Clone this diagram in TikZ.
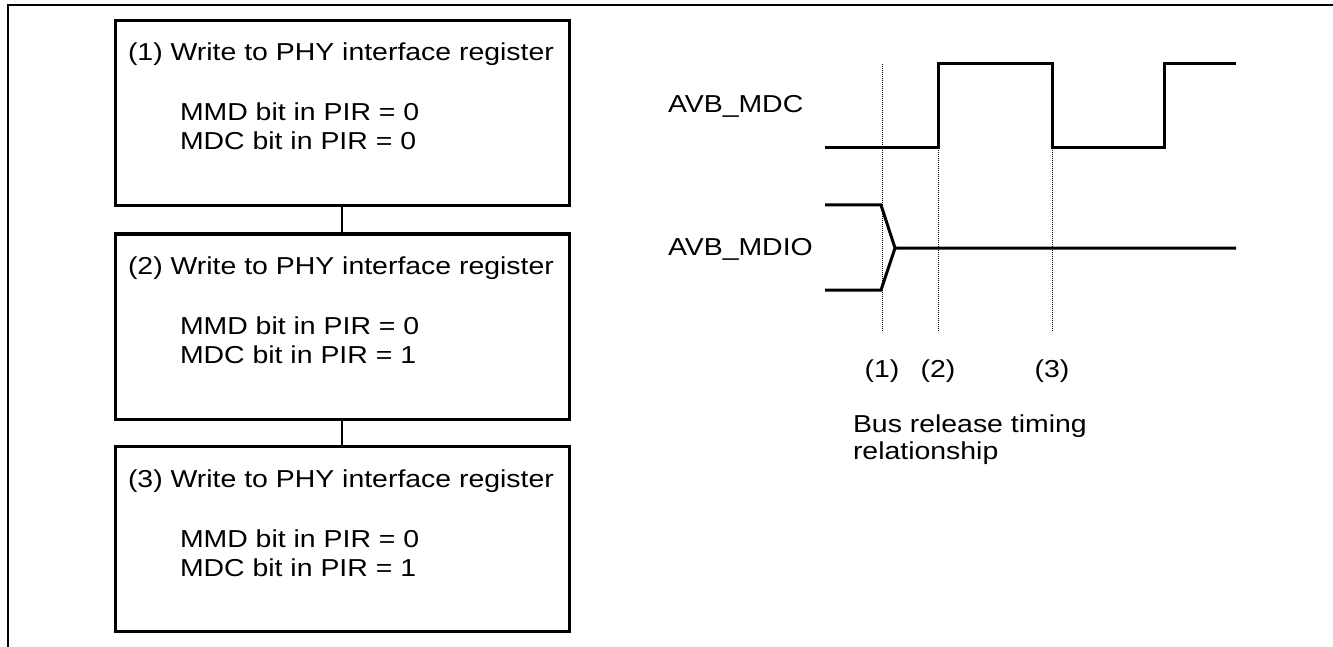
\documentclass[tikz,border=0pt]{standalone}
\usepackage{fontspec}
\setmainfont{Liberation Sans}[FakeStretch=1.16]
\begin{document}
\begin{tikzpicture}[x=1pt,y=-1pt,
  every node/.style={inner sep=0pt,outer sep=0pt,font=\fontsize{24.5}{29.5}\selectfont},
  stepbox/.style={draw,line width=3pt,minimum width=454pt,minimum height=185pt},
  txt/.style={anchor=base west},
  link/.style={line width=1.8pt},
  sig/.style={line width=3pt,line join=miter},
  dotln/.style={line width=1pt,dash pattern=on 1pt off 1pt},
  frame/.style={line width=2pt}]
\useasboundingbox (0,0) rectangle (1333,647);
% frame
\draw[frame] (1333,5) -- (8,5) -- (8,647);
% boxes
\node[stepbox] (b1) at (342,113.5) {};
\node[stepbox] (b2) at (342,326.5) {};
\node[stepbox] (b3) at (342,539) {};
\draw[link] (b1.south) -- (b2.north);
\draw[link] (b2.south) -- (b3.north);
% box texts
\node[txt] (t1) at (128,61) {(1) Write to PHY interface register};
\node[txt] (m1) at (180,121) {MMD bit in PIR = 0};
\node[txt] (c1) at (180,150) {MDC bit in PIR = 0};
\node[txt] (t2) at (128,274) {(2) Write to PHY interface register};
\node[txt] (m2) at (180,334) {MMD bit in PIR = 0};
\node[txt] (c2) at (180,363) {MDC bit in PIR = 1};
\node[txt] (t3) at (128,487) {(3) Write to PHY interface register};
\node[txt] (m3) at (180,547) {MMD bit in PIR = 0};
\node[txt] (c3) at (180,576) {MDC bit in PIR = 1};
% timing labels
\node[txt] (lmdc) at (668,113) {AVB\_MDC};
\node[txt] (lmdio) at (668,255) {AVB\_MDIO};
% waveforms
\draw[sig] (825,148) -- (938,148) -- (938,64) -- (1052,64) -- (1052,148) -- (1164,148) -- (1164,64) -- (1236,64);
\draw[sig] (825,205) -- (881,205) -- (895,248) -- (1236,248);
\draw[sig] (825,290) -- (881,290) -- (895,248);
% dotted markers
\coordinate (d1t) at (882,64);
\coordinate (d1b) at (882,332);
\coordinate (d2t) at (938,148);
\coordinate (d2b) at (938,332);
\coordinate (d3t) at (1052,148);
\coordinate (d3b) at (1052,332);
\draw[dotln] (d1t) -- (d1b);
\draw[dotln] (d2t) -- (d2b);
\draw[dotln] (d3t) -- (d3b);
\node[anchor=base] (n1) at (882,377) {(1)};
\node[anchor=base] (n2) at (938,377) {(2)};
\node[anchor=base] (n3) at (1052,377) {(3)};
\node[txt] (cap1) at (853,432) {Bus release timing};
\node[txt] (cap2) at (853,459) {relationship};
\end{tikzpicture}
\end{document}
